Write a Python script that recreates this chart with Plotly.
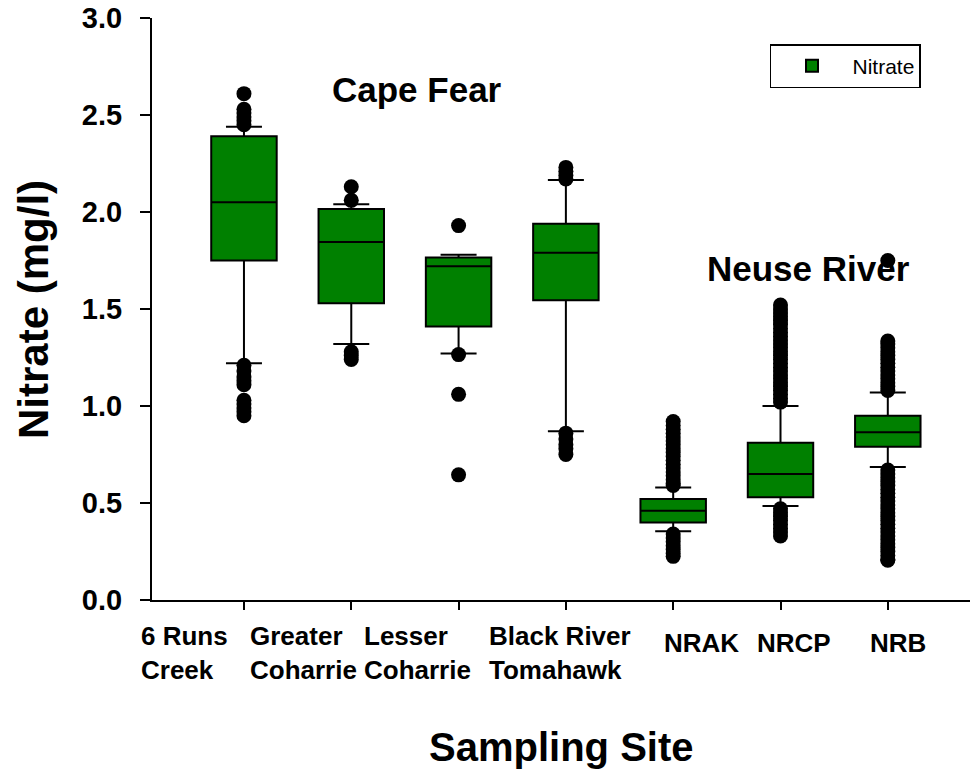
import plotly.graph_objects as go

# ---------------- data ----------------
sites = ["6 Runs Creek", "Greater Coharrie", "Lesser Coharrie", "Black River Tomahawk",
         "NRAK", "NRCP", "NRB"]
site_labels = ["6 Runs<br>Creek", "Greater<br>Coharrie", "Lesser<br>Coharrie",
               "Black River<br>Tomahawk", "NRAK", "NRCP", "NRB"]

q1 = [1.75, 1.53, 1.41, 1.545, 0.40, 0.53, 0.79]
median = [2.05, 1.845, 1.72, 1.79, 0.46, 0.65, 0.865]
q3 = [2.39, 2.015, 1.765, 1.94, 0.52, 0.81, 0.95]
lower_whisker = [1.22, 1.32, 1.27, 0.87, 0.355, 0.485, 0.685]
upper_whisker = [2.44, 2.04, 1.78, 2.165, 0.58, 1.00, 1.07]

outliers = {
    "6 Runs Creek": [2.61, 2.53, 2.51, 2.49, 2.47, 2.45,
                     1.21, 1.18, 1.15, 1.13, 1.11, 1.03, 1.01, 0.99, 0.97, 0.95],
    "Greater Coharrie": [2.13, 2.06, 1.28, 1.26, 1.24],
    "Lesser Coharrie": [1.93, 1.265, 1.06, 0.645],
    "Black River Tomahawk": [2.23, 2.21, 2.19, 2.17, 0.86, 0.83, 0.80, 0.78, 0.75],
    "NRAK": [0.92, 0.90, 0.88, 0.86, 0.84, 0.82, 0.80, 0.78, 0.76, 0.74, 0.72, 0.70,
             0.68, 0.66, 0.64, 0.62, 0.60, 0.59,
             0.34, 0.32, 0.30, 0.28, 0.26, 0.24, 0.225],
    "NRCP": [1.52, 1.50, 1.48, 1.46, 1.44, 1.42, 1.40, 1.38, 1.36, 1.34, 1.32, 1.30,
             1.28, 1.26, 1.24, 1.22, 1.20, 1.18, 1.16, 1.14, 1.12, 1.10, 1.08, 1.06,
             1.04, 1.02,
             0.47, 0.45, 0.43, 0.41, 0.39, 0.37, 0.35, 0.33],
    "NRB": [1.75, 1.335, 1.32, 1.30, 1.28, 1.26, 1.24, 1.22, 1.20, 1.18, 1.16, 1.14,
            1.12, 1.10, 1.08,
            0.67, 0.65, 0.63, 0.61, 0.59, 0.57, 0.55, 0.53, 0.51, 0.49, 0.47, 0.45,
            0.43, 0.41, 0.39, 0.37, 0.35, 0.33, 0.31, 0.29, 0.27, 0.25, 0.23, 0.21, 0.205],
}

y_ticks = [0.0, 0.5, 1.0, 1.5, 2.0, 2.5, 3.0]
y_title = "Nitrate (mg/l)"
x_title = "Sampling Site"
series_name = "Nitrate"
group_labels = ["Cape Fear", "Neuse River"]

# ---------------- styles ----------------
GREEN = "#008000"
FONT = "Liberation Sans, Arial, sans-serif"
label_dx = [-105, -103, -97, -79, -11, -26, -20]
label_dy = [-19, -19, -19, -19, -26, -26, -26]

fig = go.Figure()

fig.add_trace(go.Box(
    x=sites, q1=q1, median=median, q3=q3,
    lowerfence=lower_whisker, upperfence=upper_whisker,
    name=series_name, boxpoints=False,
    fillcolor=GREEN, line=dict(color="black", width=2),
    width=0.61, whiskerwidth=0.55, showlegend=True,
))

ox, oy = [], []
for s in sites:
    for v in outliers[s]:
        ox.append(s)
        oy.append(v)
fig.add_trace(go.Scatter(
    x=ox, y=oy, mode="markers", showlegend=False,
    marker=dict(color="black", size=15, line=dict(width=0)),
    hoverinfo="y",
))

annotations = []
for s, lab, dx, dy in zip(sites, site_labels, label_dx, label_dy):
    annotations.append(dict(
        x=s, xref="x", y=0, yref="paper", text=lab, showarrow=False,
        xanchor="left", yanchor="top", align="left", xshift=dx, yshift=dy,
        font=dict(family=FONT, size=26, color="black", weight="bold"),
    ))

annotations += [
    dict(x=0.324, y=0.878, xref="paper", yref="paper", text=group_labels[0],
         showarrow=False, xanchor="center", yanchor="middle",
         font=dict(family=FONT, size=35, color="black", weight="bold")),
    dict(x=0.803, y=0.570, xref="paper", yref="paper", text=group_labels[1],
         showarrow=False, xanchor="center", yanchor="middle",
         font=dict(family=FONT, size=35, color="black", weight="bold")),
    dict(x=-0.1455, y=0.50, xref="paper", yref="paper", text=y_title,
         showarrow=False, xanchor="center", yanchor="middle", textangle=-90,
         font=dict(family=FONT, size=42, color="black", weight="bold")),
    dict(x=0.5, y=-0.253, xref="paper", yref="paper", text=x_title,
         showarrow=False, xanchor="center", yanchor="middle",
         font=dict(family=FONT, size=40, color="black", weight="bold")),
]

fig.update_layout(
    width=970, height=776,
    margin=dict(l=152, r=0, t=18, b=176, autoexpand=False),
    plot_bgcolor="white", paper_bgcolor="white",
    font=dict(family=FONT, color="black"),
    annotations=annotations,
    legend=dict(
        x=0.7555, y=0.955, xanchor="left", yanchor="top",
        bordercolor="black", borderwidth=1.5, bgcolor="white",
        font=dict(family=FONT, size=21, color="black"),
        itemwidth=71, entrywidth=128, entrywidthmode="pixels",
    ),
    xaxis=dict(
        type="category", range=[-0.857, 6.766],
        showline=True, linecolor="black", linewidth=2,
        ticks="outside", ticklen=8, tickwidth=2, tickcolor="black",
        showticklabels=False, showgrid=False, zeroline=False,
    ),
    yaxis=dict(
        range=[0, 3.0], tickvals=y_ticks, tickformat=".1f",
        showline=True, linecolor="black", linewidth=2,
        ticks="outside", ticklen=10, tickwidth=2, tickcolor="black",
        ticklabelstandoff=12,
        tickfont=dict(family=FONT, size=29, color="black", weight="bold"),
        showgrid=False, zeroline=False,
    ),
)

fig.write_html("out.html")
